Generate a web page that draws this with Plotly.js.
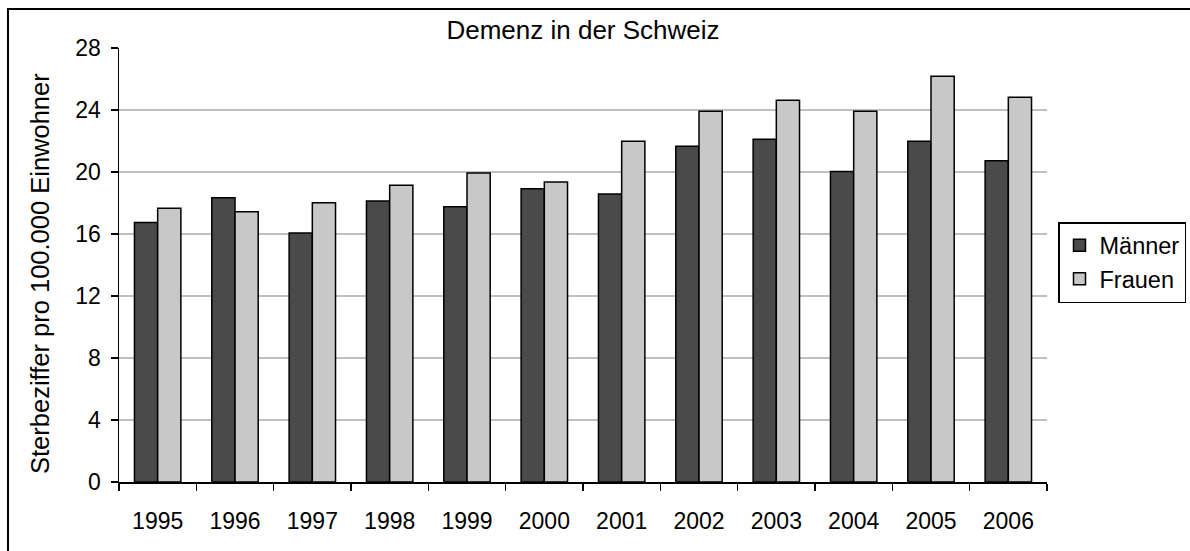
<!DOCTYPE html>
<html>
<head>
<meta charset="utf-8">
<script src="https://cdn.plot.ly/plotly-3.0.1.min.js"></script>
<style>
html,body{margin:0;padding:0;background:#fff;}
#chart{width:1190px;height:551px;}
</style>
</head>
<body>
<div id="chart"></div>
<script>
const years = ['1995','1996','1997','1998','1999','2000','2001','2002','2003','2004','2005','2006'];
const maenner = [16.75, 18.34, 16.06, 18.13, 17.76, 18.92, 18.58, 21.66, 22.11, 20.04, 21.98, 20.73];
const frauen  = [17.66, 17.44, 18.02, 19.14, 19.94, 19.35, 21.98, 23.92, 24.63, 23.92, 26.17, 24.82];
const yTicks = [0, 4, 8, 12, 16, 20, 24, 28];
const yTitle = 'Sterbeziffer pro 100.000 Einwohner';

const FONT = 'Arial, "Liberation Sans", sans-serif';
const L = 119, R = 1047, T = 48, B = 482, W = 1190, H = 551;
const pw = R - L, ph = B - T;
const px = v => (v - L) / pw;
const py = v => (B - v) / ph;

const traces = [
  {type:'bar', name:'Männer', x: years, y: maenner,
   marker:{color:'#4a4a4a', line:{color:'#000', width:1.5}}},
  {type:'bar', name:'Frauen', x: years, y: frauen,
   marker:{color:'#c8c8c8', line:{color:'#000', width:1.5}}}
];

const layout = {
  width: W, height: H,
  margin: {l: L, r: W - R, t: T, b: H - B, pad: 0, autoexpand: false},
  paper_bgcolor: '#fff', plot_bgcolor: '#fff',
  font: {family: FONT, color: '#000', size: 23},
  title: {text: 'Demenz in der Schweiz', font: {family: FONT, size: 26, color: '#000'},
          xref: 'paper', x: 0.5, xanchor: 'center', yref: 'container', y: 1 - 30/H, yanchor: 'middle'},
  barmode: 'group', bargap: 0.4, bargroupgap: 0,
  showlegend: true,
  legend: {x: px(1058), y: py(222), xanchor: 'left', yanchor: 'top',
           bordercolor: '#000', borderwidth: 1.5, bgcolor: '#fff',
           font: {family: FONT, size: 23.5, color: '#000'}, tracegroupgap: 0, itemwidth: 30},
  xaxis: {type: 'category', showline: true, linecolor: '#000', linewidth: 1.5,
          ticks: 'outside', tickson: 'boundaries', ticklen: 7, tickwidth: 1.5, tickcolor: '#000',
          showgrid: false, zeroline: false, tickfont: {family: FONT, size: 23, color: '#000'},
          ticklabelstandoff: 18, fixedrange: true},
  yaxis: {range: [0, 28], tickvals: yTicks, ticktext: yTicks.map(String),
          showline: true, linecolor: '#000', linewidth: 1.5,
          ticks: 'outside', ticklen: 7, tickwidth: 1.5, tickcolor: '#000',
          showgrid: true, gridcolor: '#c0c0c0', gridwidth: 1.5, zeroline: false,
          tickfont: {family: FONT, size: 23, color: '#000'}, ticklabelstandoff: 5,
          fixedrange: true},
  annotations: [
    {text: yTitle, textangle: -90, showarrow: false, xref: 'paper', yref: 'paper',
     x: px(40), y: py(274), xanchor: 'center', yanchor: 'middle',
     font: {family: FONT, size: 25.5, color: '#000'}}
  ],
  shapes: [
    {type: 'path', xref: 'paper', yref: 'paper', layer: 'above',
     path: `M ${px(1250)} ${py(9)} L ${px(8)} ${py(9)} L ${px(8)} ${py(600)}`,
     line: {color: '#000', width: 2}}
  ]
};

Plotly.newPlot('chart', traces, layout, {displayModeBar: false, staticPlot: true});
</script>
</body>
</html>
